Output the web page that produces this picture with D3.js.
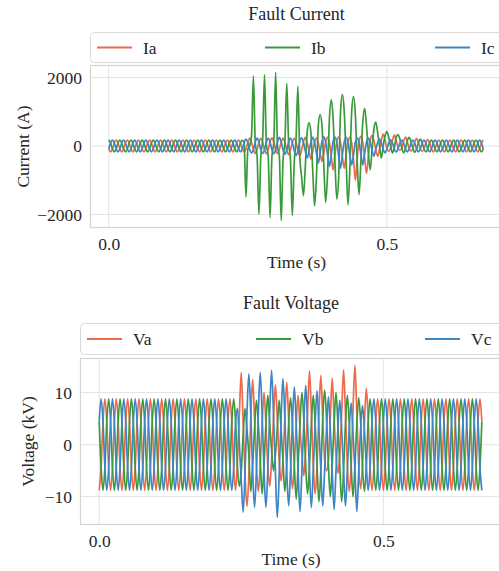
<!DOCTYPE html>
<html>
<head>
<meta charset="utf-8">
<script src="https://cdn.jsdelivr.net/npm/d3@7"></script>
<style>
  html, body { margin: 0; padding: 0; background: #fff; }
  svg { display: block; font-family: "Liberation Serif", "DejaVu Serif", serif; }
</style>
</head>
<body>
<script>
// samples are taken every 60 degrees of the 50 Hz cycle (300 per second)
const sampleRate = 300;

const timeTicks = [0.0, 0.5];
const currentTicks = [-2000, 0, 2000];
const voltageTicks = [-10, 0, 10];

const currentNames = ["Ia", "Ib", "Ic"];
const voltageNames = ["Va", "Vb", "Vc"];
const colors = ["#ee6a4c", "#3a9a3a", "#3d85c6"];

// phase currents (A)
const ia = [
  -85, -170, -85, 85, 170, 85,
  -85, -170, -85, 85, 170, 85,
  -85, -170, -85, 85, 170, 85,
  -85, -170, -85, 85, 170, 85,
  -85, -170, -85, 85, 170, 85,
  -85, -170, -85, 85, 170, 85,
  -85, -170, -85, 85, 170, 85,
  -85, -170, -85, 85, 170, 85,
  -85, -170, -85, 85, 170, 85,
  -85, -170, -85, 85, 170, 85,
  -85, -170, -85, 85, 170, 85,
  -85, -170, -85, 85, 170, 85,
  -85, -170, -85, 100, 230, 110,
  -100, -220, -100, 110, 220, 110,
  -110, -230, -100, 120, 240, 110,
  -100, -220, -100, 110, 230, 110,
  -120, -250, -110, 110, 220, 110,
  -130, -280, -120, 120, 250, 100,
  -150, -380, -150, 110, 230, 100,
  -200, -450, -200, 120, 250, 100,
  -300, -700, -250, 130, 260, 100,
  -300, -650, -250, 120, 250, 80,
  -400, -1000, -350, 140, 280, 100,
  -350, -800, -300, 150, 300, 150,
  -100, -300, -100, 170, 350, 170,
  -80, -150, -50, 160, 320, 160,
  -50, -130, -60, 130, 260, 130,
  -70, -150, -70, 110, 220, 110,
  -80, -160, -80, 95, 190, 95,
  -85, -170, -85, 85, 170, 85,
  -85, -170, -85, 85, 170, 85,
  -85, -170, -85, 85, 170, 85,
  -85, -170, -85, 85, 170, 85,
  -85, -170, -85, 85, 170
];
const ib = [
  170, 85, -85, -170, -85, 85,
  170, 85, -85, -170, -85, 85,
  170, 85, -85, -170, -85, 85,
  170, 85, -85, -170, -85, 85,
  170, 85, -85, -170, -85, 85,
  170, 85, -85, -170, -85, 85,
  170, 85, -85, -170, -85, 85,
  170, 85, -85, -170, -85, 85,
  170, 85, -85, -170, -85, 85,
  170, 85, -85, -170, -85, 85,
  170, 85, -85, -170, -85, 85,
  170, 85, -85, -170, -85, 85,
  170, 85, -1490, -100, 0, 300,
  2050, 100, -300, -1990, -300, 200,
  2080, 50, -300, -2090, -300, 100,
  2150, 0, -300, -2180, -400, 100,
  1830, 100, -400, -2030, -500, 200,
  1740, -300, -900, -1450, -600, 400,
  680, 400, -700, -1750, -900, 600,
  920, 600, -600, -1650, -800, 800,
  1350, 800, -500, -1550, -900, 1000,
  1500, 1000, -400, -1720, -700, 1000,
  1440, 900, -500, -1420, -400, 700,
  1100, 600, -200, -700, -100, 500,
  700, 400, 0, -350, 0, 300,
  420, 250, 0, -200, -50, 250,
  330, 200, -50, -200, -80, 150,
  250, 130, -70, -190, -85, 100,
  200, 100, -80, -175, -85, 90,
  170, 85, -85, -170, -85, 85,
  170, 85, -85, -170, -85, 85,
  170, 85, -85, -170, -85, 85,
  170, 85, -85, -170, -85, 85,
  170, 85, -85, -170, -85
];
const ic = [
  -85, 85, 170, 85, -85, -170,
  -85, 85, 170, 85, -85, -170,
  -85, 85, 170, 85, -85, -170,
  -85, 85, 170, 85, -85, -170,
  -85, 85, 170, 85, -85, -170,
  -85, 85, 170, 85, -85, -170,
  -85, 85, 170, 85, -85, -170,
  -85, 85, 170, 85, -85, -170,
  -85, 85, 170, 85, -85, -170,
  -85, 85, 170, 85, -85, -170,
  -85, 85, 170, 85, -85, -170,
  -85, 85, 170, 85, -85, -170,
  -85, 85, 200, 100, -100, -200,
  -100, 110, 230, 110, -110, -220,
  -110, 110, 220, 110, -110, -230,
  -110, 120, 250, 120, -120, -240,
  -120, 110, 230, 110, -130, -280,
  -140, 120, 240, 100, -150, -350,
  -150, 120, 250, 100, -200, -500,
  -200, 130, 270, 100, -250, -600,
  -250, 130, 260, 100, -300, -650,
  -250, 120, 250, 100, -250, -550,
  -250, 110, 230, 100, -250, -550,
  -200, 110, 230, 100, -120, -300,
  -100, 100, 200, 100, -100, -200,
  -90, 90, 180, 90, -90, -180,
  -85, 85, 170, 85, -85, -170,
  -85, 85, 170, 85, -85, -170,
  -85, 85, 170, 85, -85, -170,
  -85, 85, 170, 85, -85, -170,
  -85, 85, 170, 85, -85, -170,
  -85, 85, 170, 85, -85, -170,
  -85, 85, 170, 85, -85, -170,
  -85, 85, 170, 85, -85
];

// phase voltages (kV)
const va = [
  -8.8, -4.4, 4.4, 8.8, 4.4, -4.4,
  -8.8, -4.4, 4.4, 8.8, 4.4, -4.4,
  -8.8, -4.4, 4.4, 8.8, 4.4, -4.4,
  -8.8, -4.4, 4.4, 8.8, 4.4, -4.4,
  -8.8, -4.4, 4.4, 8.8, 4.4, -4.4,
  -8.8, -4.4, 4.4, 8.8, 4.4, -4.4,
  -8.8, -4.4, 4.4, 8.8, 4.4, -4.4,
  -8.8, -4.4, 4.4, 8.8, 4.4, -4.4,
  -8.8, -4.4, 4.4, 8.8, 4.4, -4.4,
  -8.8, -4.4, 4.4, 8.8, 4.4, -4.4,
  -8.8, -4.4, 4.4, 8.8, 4.4, -4.4,
  -8.8, -4.4, 4.4, 8.8, 4.4, -4.4,
  -8.8, -3, 6, 13.9, 4, -6,
  -11.9, -6, 5, 12.5, 5, -4,
  -9, -4, 4, 10, 4, -4,
  -8, -3, 5, 11.5, 5, -3,
  -7, -3, 5, 12, 5, -3,
  -8.5, -4, 4, 9.5, 3, -2,
  -6, -1, 6, 14.2, 6, -4,
  -9.5, -4, 6, 13.3, 5, -3,
  -5, -3, 5, 12.8, 5, -2,
  -5.5, -2, 6, 14.4, 6, -4,
  -9, -4, 7, 15.2, 6, -4,
  -8.5, -4, 4, 10.8, 5, -4.4,
  -8.8, -4.4, 4.4, 8.8, 4.4, -4.4,
  -8.8, -4.4, 4.4, 8.8, 4.4, -4.4,
  -8.8, -4.4, 4.4, 8.8, 4.4, -4.4,
  -8.8, -4.4, 4.4, 8.8, 4.4, -4.4,
  -8.8, -4.4, 4.4, 8.8, 4.4, -4.4,
  -8.8, -4.4, 4.4, 8.8, 4.4, -4.4,
  -8.8, -4.4, 4.4, 8.8, 4.4, -4.4,
  -8.8, -4.4, 4.4, 8.8, 4.4, -4.4,
  -8.8, -4.4, 4.4, 8.8, 4.4, -4.4,
  -8.8, -4.4, 4.4, 8.8, 4.4
];
const vb = [
  4.4, -4.4, -8.8, -4.4, 4.4, 8.8,
  4.4, -4.4, -8.8, -4.4, 4.4, 8.8,
  4.4, -4.4, -8.8, -4.4, 4.4, 8.8,
  4.4, -4.4, -8.8, -4.4, 4.4, 8.8,
  4.4, -4.4, -8.8, -4.4, 4.4, 8.8,
  4.4, -4.4, -8.8, -4.4, 4.4, 8.8,
  4.4, -4.4, -8.8, -4.4, 4.4, 8.8,
  4.4, -4.4, -8.8, -4.4, 4.4, 8.8,
  4.4, -4.4, -8.8, -4.4, 4.4, 8.8,
  4.4, -4.4, -8.8, -4.4, 4.4, 8.8,
  4.4, -4.4, -8.8, -4.4, 4.4, 8.8,
  4.4, -4.4, -8.8, -4.4, 4.4, 8.8,
  4.4, -4.4, -8, -5, 2, 7,
  3, -2, -9, -4, 3, 8.5,
  4, -3, -9.5, -4, 4, 9.5,
  4, -1, -5, -2, 3, 8.5,
  3, -3, -9, -4, 4, 9,
  4, -4, -10.5, -4, 4, 10,
  5, -4, -9.5, -4, 4, 9.5,
  4, -4, -11, -5, 5, 10.5,
  5, -4, -10, -4, 4, 10,
  4, -4, -11, -5, 4, 9.5,
  4, -4, -10, -4, 4, 9,
  4.4, -4.4, -9, -4.4, 4.4, 8.8,
  4.4, -4.4, -8.8, -4.4, 4.4, 8.8,
  4.4, -4.4, -8.8, -4.4, 4.4, 8.8,
  4.4, -4.4, -8.8, -4.4, 4.4, 8.8,
  4.4, -4.4, -8.8, -4.4, 4.4, 8.8,
  4.4, -4.4, -8.8, -4.4, 4.4, 8.8,
  4.4, -4.4, -8.8, -4.4, 4.4, 8.8,
  4.4, -4.4, -8.8, -4.4, 4.4, 8.8,
  4.4, -4.4, -8.8, -4.4, 4.4, 8.8,
  4.4, -4.4, -8.8, -4.4, 4.4, 8.8,
  4.4, -4.4, -8.8, -4.4, 4.4
];
const vc = [
  4.4, 8.8, 4.4, -4.4, -8.8, -4.4,
  4.4, 8.8, 4.4, -4.4, -8.8, -4.4,
  4.4, 8.8, 4.4, -4.4, -8.8, -4.4,
  4.4, 8.8, 4.4, -4.4, -8.8, -4.4,
  4.4, 8.8, 4.4, -4.4, -8.8, -4.4,
  4.4, 8.8, 4.4, -4.4, -8.8, -4.4,
  4.4, 8.8, 4.4, -4.4, -8.8, -4.4,
  4.4, 8.8, 4.4, -4.4, -8.8, -4.4,
  4.4, 8.8, 4.4, -4.4, -8.8, -4.4,
  4.4, 8.8, 4.4, -4.4, -8.8, -4.4,
  4.4, 8.8, 4.4, -4.4, -8.8, -4.4,
  4.4, 8.8, 4.4, -4.4, -8.8, -4.4,
  4.4, 7, 0, -7, -13, -5,
  6, 13.6, 6, -5, -12.1, -5,
  6, 13.9, 6, -5, -12.1, -5,
  6, 14.3, 6, -5, -14, -6,
  5, 12.7, 5, -5, -11.8, -5,
  4, 11.1, 4, -5, -12.9, -5,
  4, 11.4, 4, -5, -12.1, -5,
  4, 10.4, 3, -5, -11.8, -5,
  3, 9.2, 3, -5, -12.5, -5,
  3, 8.5, 3, -5, -11.8, -5,
  3, 8, 2, -5, -12.9, -5,
  3, 7.5, 3, -4, -8.8, -4.4,
  4.4, 8.8, 4.4, -4.4, -8.8, -4.4,
  4.4, 8.8, 4.4, -4.4, -8.8, -4.4,
  4.4, 8.8, 4.4, -4.4, -8.8, -4.4,
  4.4, 8.8, 4.4, -4.4, -8.8, -4.4,
  4.4, 8.8, 4.4, -4.4, -8.8, -4.4,
  4.4, 8.8, 4.4, -4.4, -8.8, -4.4,
  4.4, 8.8, 4.4, -4.4, -8.8, -4.4,
  4.4, 8.8, 4.4, -4.4, -8.8, -4.4,
  4.4, 8.8, 4.4, -4.4, -8.8, -4.4,
  4.4, 8.8, 4.4, -4.4, -8.8
];

const svg = d3.select("body").append("svg")
  .attr("width", 499)
  .attr("height", 571);

const textColor = "#262626";

function drawPanel(p, id) {
  const x = d3.scaleLinear().domain(p.xDomain).range([p.left, p.right]);
  const y = d3.scaleLinear().domain(p.yDomain).range([p.bottom, p.top]);
  const g = svg.append("g");

  // title
  g.append("text")
    .attr("x", (p.left + p.right) / 2)
    .attr("y", p.titleY)
    .attr("text-anchor", "middle")
    .attr("font-size", 18)
    .attr("fill", textColor)
    .text(p.title);

  // legend above the axes
  g.append("rect")
    .attr("x", p.left + 0.5)
    .attr("y", p.legendTop + 0.5)
    .attr("width", p.right - p.left + 20)
    .attr("height", p.legendH)
    .attr("rx", 4)
    .attr("fill", "#fff")
    .attr("stroke", "#dadada");

  const ly = p.legendTop + p.legendH / 2 + 0.5;
  p.names.forEach(function(name, i) {
    const lx = p.legendX[i];
    g.append("line")
      .attr("x1", lx).attr("x2", lx + 35)
      .attr("y1", ly).attr("y2", ly)
      .attr("stroke", colors[i])
      .attr("stroke-width", 1.8);
    g.append("text")
      .attr("x", lx + 46)
      .attr("y", ly + 6)
      .attr("font-size", 17.5)
      .attr("fill", textColor)
      .text(name);
  });

  // grid
  const grid = g.append("g").attr("stroke", "#e3e3e3").attr("stroke-width", 1);
  grid.selectAll(".gx")
    .data(timeTicks)
    .enter()
    .append("line")
    .attr("x1", d => x(d)).attr("x2", d => x(d))
    .attr("y1", p.top).attr("y2", p.bottom);
  grid.selectAll(".gy")
    .data(p.yTicks)
    .enter()
    .append("line")
    .attr("x1", p.left).attr("x2", p.right)
    .attr("y1", d => y(d)).attr("y2", d => y(d));

  // frame
  g.append("rect")
    .attr("x", p.left + 0.5)
    .attr("y", p.top + 0.5)
    .attr("width", p.right - p.left)
    .attr("height", p.bottom - p.top - 1)
    .attr("fill", "none")
    .attr("stroke", "#d4d4d4")
    .attr("stroke-width", 1.2);

  // tick labels
  const ax = g.append("g")
    .attr("transform", "translate(0," + p.bottom + ")")
    .call(d3.axisBottom(x).tickValues(timeTicks).tickSize(0).tickPadding(10).tickFormat(d3.format(".1f")));
  const ay = g.append("g")
    .attr("transform", "translate(" + p.left + ",0)")
    .call(d3.axisLeft(y).tickValues(p.yTicks).tickSize(0).tickPadding(8).tickFormat(d3.format("d")));
  [ax, ay].forEach(function(a) {
    a.select(".domain").remove();
    a.selectAll("text")
      .attr("font-size", 17.5)
      .attr("font-family", "Liberation Serif, DejaVu Serif, serif")
      .attr("fill", textColor);
  });

  // axis labels
  g.append("text")
    .attr("x", (p.left + p.right) / 2)
    .attr("y", p.xLabelY)
    .attr("text-anchor", "middle")
    .attr("font-size", 17.5)
    .attr("fill", textColor)
    .text("Time (s)");
  g.append("text")
    .attr("transform", "translate(" + p.yLabelX + "," + (p.top + p.bottom) / 2 + ") rotate(-90)")
    .attr("text-anchor", "middle")
    .attr("font-size", 17.5)
    .attr("fill", textColor)
    .text(p.yLabel);

  // waveforms
  g.append("clipPath").attr("id", "clip" + id)
    .append("rect")
    .attr("x", p.left).attr("y", p.top)
    .attr("width", p.right - p.left).attr("height", p.bottom - p.top);

  const line = d3.line()
    .x((d, i) => x(i / sampleRate))
    .y(d => y(d))
    .curve(d3.curveMonotoneX);

  g.append("g")
    .attr("clip-path", "url(#clip" + id + ")")
    .selectAll("path")
    .data(p.series)
    .enter()
    .append("path")
    .attr("d", d => line(d))
    .attr("fill", "none")
    .attr("stroke", (d, i) => colors[i])
    .attr("stroke-width", 1.7)
    .attr("stroke-linejoin", "round");
}

drawPanel({
  title: "Fault Current",
  titleY: 20,
  legendTop: 32, legendH: 30,
  legendX: [97, 265, 435],
  names: currentNames,
  left: 90, right: 503, top: 65, bottom: 228,
  xDomain: [-0.0337, 0.7087],
  yDomain: [-2396, 2366],
  yTicks: currentTicks,
  yLabel: "Current (A)",
  yLabelX: 29,
  xLabelY: 268,
  series: [ia, ib, ic]
}, "a");

drawPanel({
  title: "Fault Voltage",
  titleY: 309,
  legendTop: 323, legendH: 31,
  legendX: [87, 256, 425],
  names: voltageNames,
  left: 80, right: 502, top: 358, bottom: 525,
  xDomain: [-0.0338, 0.7088],
  yDomain: [-15.46, 16.66],
  yTicks: voltageTicks,
  yLabel: "Voltage (kV)",
  yLabelX: 34,
  xLabelY: 565,
  series: [va, vb, vc]
}, "b");
</script>
</body>
</html>
